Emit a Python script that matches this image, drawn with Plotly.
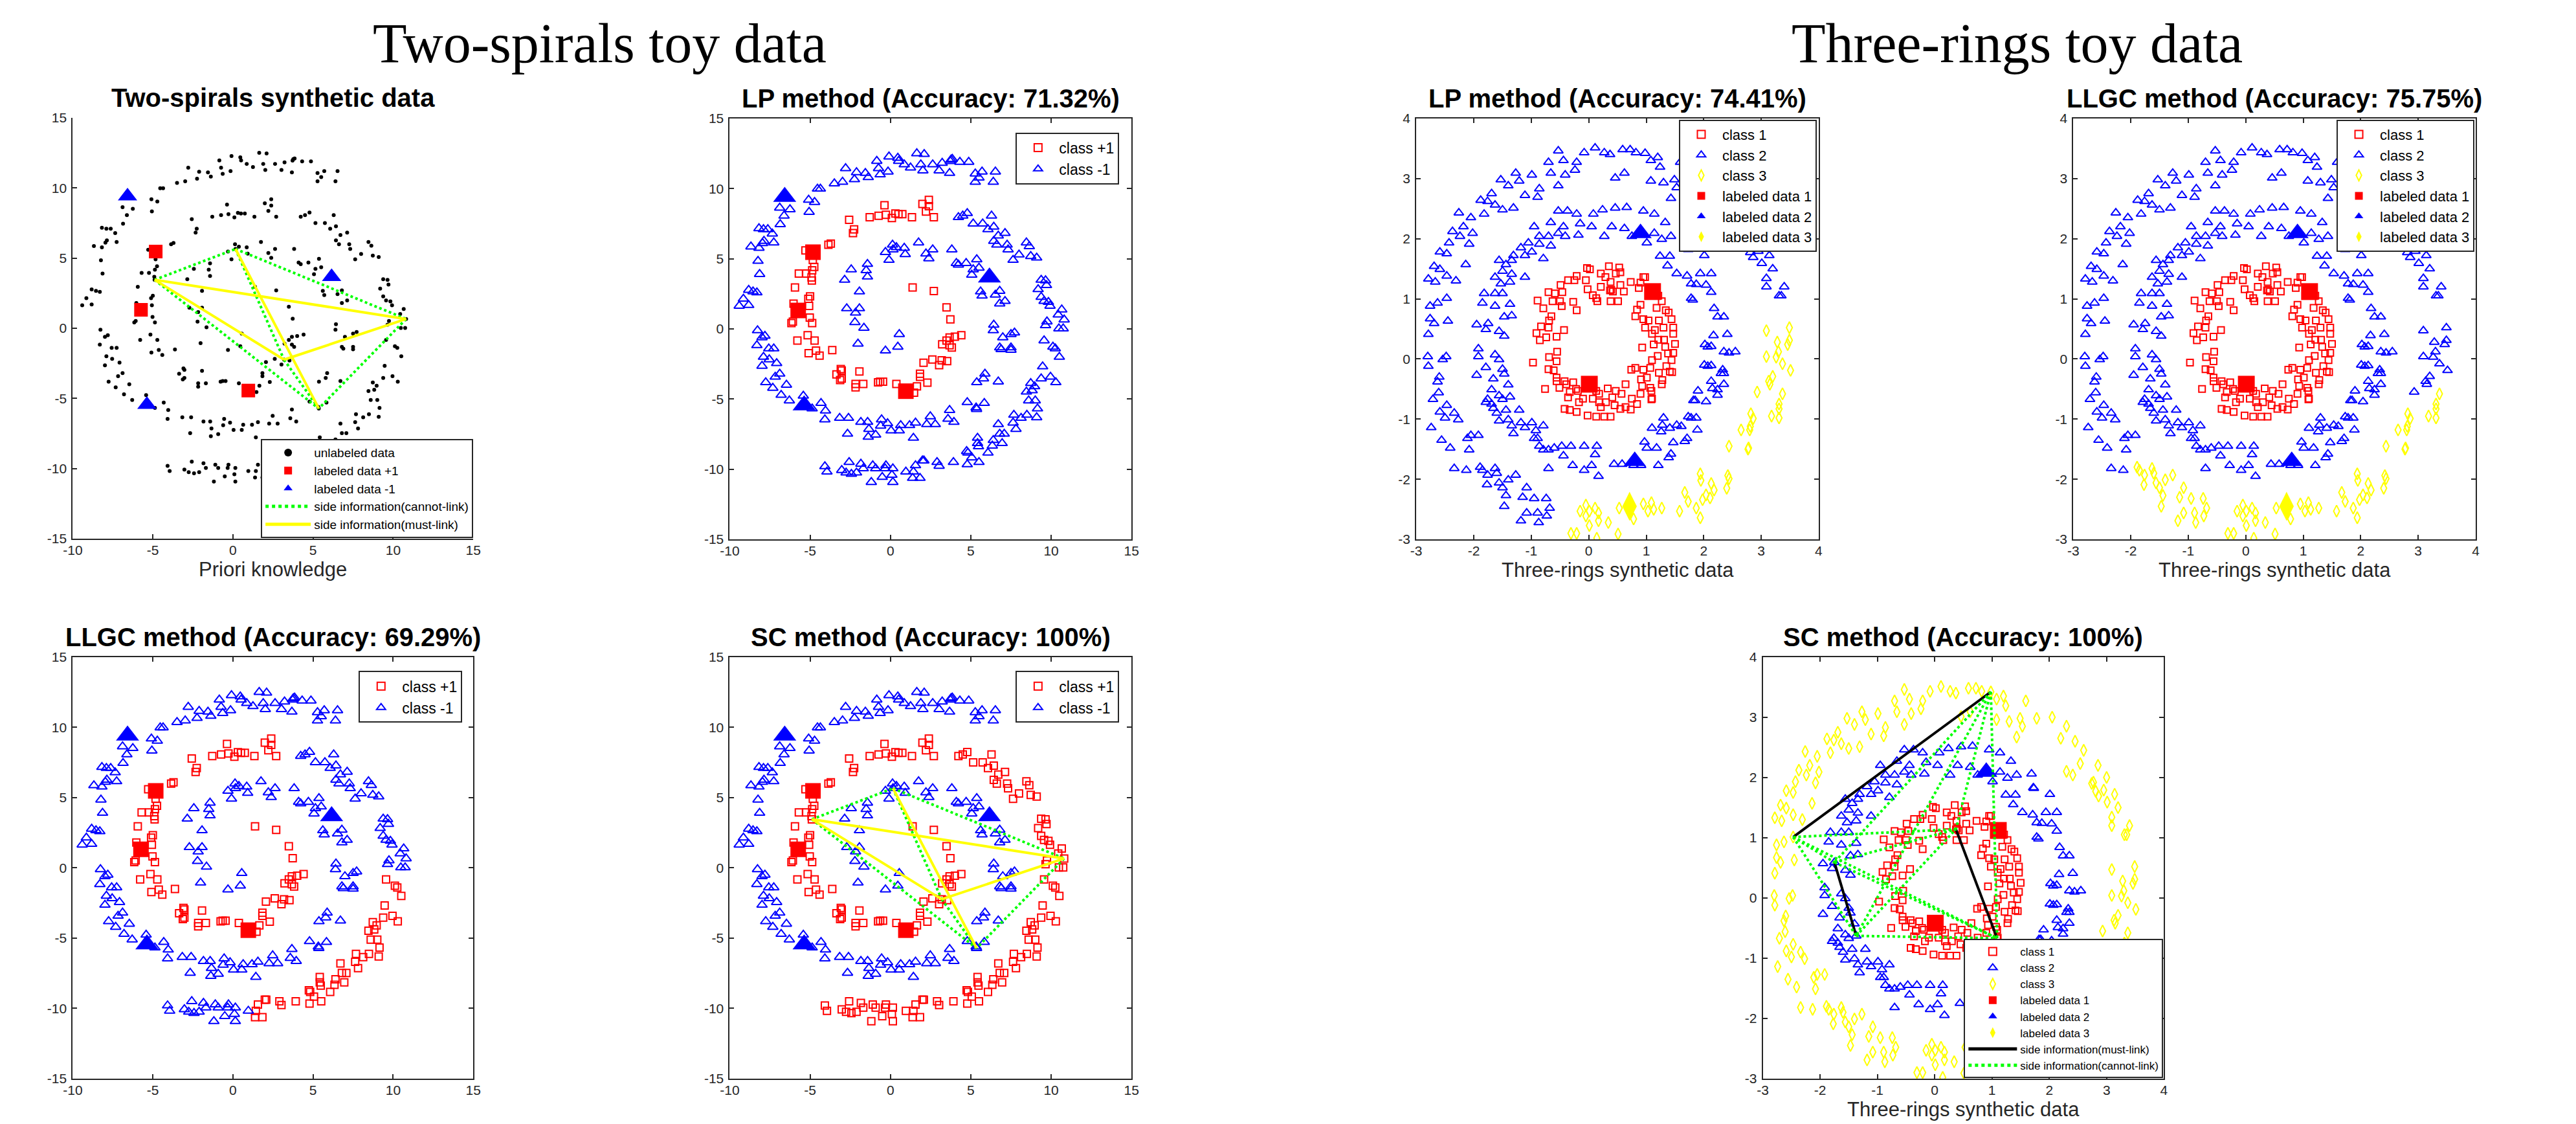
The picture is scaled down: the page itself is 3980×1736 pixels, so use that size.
import plotly.graph_objects as go

FIG_W, FIG_H = 3980, 1736

# ------------------------------------------------------------------
# Tick values / labels
# ------------------------------------------------------------------
SPIRAL_X_TICKS = [-10, -5, 0, 5, 10, 15]
SPIRAL_X_LABELS = ["-10", "-5", "0", "5", "10", "15"]
SPIRAL_Y_TICKS = [-15, -10, -5, 0, 5, 10, 15]
SPIRAL_Y_LABELS = ["-15", "-10", "-5", "0", "5", "10", "15"]
RING_TICKS = [-3, -2, -1, 0, 1, 2, 3, 4]
RING_LABELS = ["-3", "-2", "-1", "0", "1", "2", "3", "4"]

# ------------------------------------------------------------------
# Two-spirals data (x, y), grouped by arm segment (true class)
# ------------------------------------------------------------------
SPIRAL_NEG_OUTER = [
    (-2.79, 11.44), (-2.11, 11.15), (-1.56, 11.1), (-1.38, 10.8), (-0.85, 11.96), (-0.74, 11.44),
    (-0.64, 11.0), (-0.09, 12.27), (-0.15, 11.2), (0.46, 12.18), (0.51, 11.96), (0.86, 11.71),
    (1.25, 11.49), (1.64, 12.5), (1.89, 11.71), (2.1, 12.45), (2.02, 11.28), (2.63, 11.71),
    (3.03, 11.28), (3.22, 11.82), (3.77, 12.05), (3.72, 11.95), (3.85, 12.1), (3.68, 11.1),
    (4.32, 11.89), (4.87, 11.89), (5.28, 11.06), (5.28, 10.47), (5.7, 11.2), (5.51, 10.77),
    (6.4, 10.47), (6.53, 11.2),
    (-3.49, 10.36), (-2.98, 10.47), (-2.24, 10.65), (-4.54, 9.98), (-4.36, 9.98), (-5.09, 9.19),
    (-4.72, 9.03), (-5.06, 8.33), (-6.89, 8.63), (-6.62, 8.06), (-6.25, 8.51), (-6.86, 7.45),
    (-8.18, 7.16), (-7.9, 7.09), (-7.63, 7.09), (-7.35, 6.78), (-7.26, 6.15), (-7.87, 6.26),
    (-7.96, 6.1), (-8.68, 5.86), (-8.18, 5.77), (-8.24, 4.84), (-8.14, 3.9), (-8.82, 2.77),
    (-8.55, 2.66), (-8.31, 2.59), (-9.15, 2.14), (-9.41, 1.64), (-8.82, 1.69),
    (-8.27, -0.11), (-7.99, -0.61), (-7.81, -0.5), (-8.31, -1.17), (-7.57, -1.4), (-7.26, -1.4),
    (-7.9, -2.0), (-7.54, -2.18), (-7.08, -2.45), (-7.99, -2.64), (-6.89, -3.2), (-7.17, -3.42),
    (-7.76, -3.81), (-7.32, -4.21), (-6.47, -3.99), (-6.8, -4.71), (-6.29, -5.11), (-5.42, -4.77),
    (-4.87, -5.68), (-4.32, -5.29), (-4.04, -5.83), (-4.08, -6.46), (-3.16, -6.35), (-2.61, -6.35),
    (-2.67, -7.48), (-1.84, -6.64), (-1.42, -6.64), (-1.34, -7.14), (-1.38, -7.7), (-0.92, -7.55),
    (-0.55, -6.46), (-0.61, -6.91), (-0.18, -6.73), (0.04, -7.25), (0.55, -7.25), (0.64, -6.87),
    (1.19, -6.87), (1.56, -6.69), (1.43, -7.77), (2.26, -6.8), (2.48, -6.24), (2.79, -6.8),
    (3.58, -6.42), (3.68, -5.79), (3.95, -6.64),
]
SPIRAL_NEG_INNER = [
    (0.13, 5.99), (0.37, 5.81), (0.86, 5.77), (0.92, 5.32), (-0.31, 5.47), (-0.09, 4.91),
    (0.16, 5.65), (1.75, 6.15), (2.21, 5.36), (2.63, 5.65), (2.39, 5.02), (3.82, 5.65),
    (4.1, 4.68), (4.23, 4.57), (4.71, 4.68), (5.37, 4.95), (5.15, 4.23), (5.06, 3.85),
    (5.51, 4.35), (5.61, 2.66), (5.7, 2.36), (6.53, 2.43), (6.8, 2.7), (6.8, 1.8), (7.13, 1.98),
    (6.43, 0.29), (6.4, -0.11), (6.99, -0.61), (7.5, -0.38), (7.72, -0.27), (6.8, -1.33),
    (6.89, -1.46), (7.5, -1.33), (7.5, -1.5), (5.88, -3.2), (5.79, -3.54), (5.37, -3.81),
    (6.71, -3.76), (4.78, -5.23), (5.33, -5.61), (5.36, -5.72), (5.84, -5.29),
    (-1.43, 4.62), (-1.51, 4.17), (-1.43, 3.72), (-2.44, 4.23), (-2.85, 3.49), (-1.93, 2.66),
    (-2.72, 1.46), (-1.93, 1.46), (-2.17, 1.15), (-2.21, 0.47), (-1.65, 0.07), (-2.02, -1.06),
    (0.55, -0.38), (0.46, -1.28), (-0.31, -1.55),
]
SPIRAL_POS_INNER = [
    (-4.83, 4.91), (-5.29, 5.59), (-3.86, 5.99), (-3.71, 6.08), (-5.7, 3.94), (-5.24, 3.94),
    (-4.87, 4.17), (-4.74, 4.41), (-4.91, 3.67), (-4.89, 3.45), (-5.94, 2.95), (-6.03, 1.8),
    (-5.0, 2.32), (-5.11, 2.14), (-5.06, 1.64), (-5.02, 0.81), (-4.87, 0.41), (-6.16, 0.41),
    (-6.07, 0.52), (-5.79, -0.83), (-5.15, -0.45), (-4.72, -0.83), (-5.09, -1.73), (-4.63, -1.55),
    (-4.41, -1.91), (-3.62, -1.51),
    (-3.36, -3.24), (-3.09, -2.86), (-3.03, -2.97), (-3.13, -3.65), (-3.03, -3.54), (-1.93, -3.04),
    (-2.17, -3.92), (-2.17, -4.17), (-1.69, -3.92), (-0.77, -3.81), (-0.64, -3.76), (-0.46, -3.76),
    (0.37, -3.92), (1.47, -4.55), (1.65, -4.1), (1.84, -3.2), (1.84, -3.42), (2.3, -3.83),
    (2.06, -2.41), (2.61, -2.18), (3.03, -2.59), (3.19, -2.24), (3.53, -2.3),
    (3.22, -1.1), (3.68, -1.17), (3.82, -1.33), (3.49, -0.83), (3.68, -0.61), (4.01, -0.56),
    (4.41, -0.45), (3.73, 0.68), (3.49, 1.53), (2.7, 2.7), (1.38, 2.95),
    (-2.57, 7.77), (-2.26, 7.09), (-2.33, 6.82), (-1.29, 7.95), (-0.74, 8.06), (-0.37, 8.81),
    (-0.28, 8.13), (0.09, 7.9), (0.31, 8.22), (0.5, 8.18), (0.74, 8.18), (1.34, 7.95),
    (1.99, 8.9), (2.39, 9.19), (2.39, 8.74), (2.21, 8.36), (2.7, 7.95),
]
SPIRAL_POS_TOPRIGHT = [
    (4.23, 7.95), (4.5, 8.06), (4.78, 8.24), (5.15, 7.5), (5.74, 7.5), (6.29, 8.06), (6.43, 7.27),
    (6.07, 7.09), (6.71, 6.64), (7.13, 6.82), (6.43, 6.26), (6.62, 5.99), (7.26, 5.99),
    (7.32, 5.65), (7.63, 4.91), (8.0, 5.29), (8.46, 6.15), (8.64, 5.88), (8.73, 5.18), (9.1, 5.07),
]
SPIRAL_POS_RIGHT_UPPER = [
    (9.38, 3.49), (9.65, 3.45), (9.71, 3.11), (9.19, 2.82), (9.38, 2.27), (9.56, 1.98),
    (9.83, 1.91), (9.93, 1.64), (10.66, 1.37), (10.44, 1.01), (10.81, 0.66), (9.74, 0.52),
    (9.65, 0.25), (10.48, 0.02), (10.75, 0.02),
]
SPIRAL_POS_RIGHT_LOWER = [
    (9.56, -0.83), (10.11, -1.28), (10.26, -1.4), (10.51, -2.0), (9.47, -2.68), (9.38, -3.54),
    (9.96, -3.42), (10.29, -3.81),
]
SPIRAL_POS_BOTTOMRIGHT = [
    (8.73, -3.87), (8.97, -4.1), (8.82, -4.39), (8.46, -4.48), (8.6, -5.11), (9.01, -5.11),
    (9.15, -5.68), (9.1, -6.31), (8.49, -6.13), (7.68, -6.13), (7.63, -6.69), (7.81, -7.14),
    (8.13, -6.35), (6.71, -6.8), (6.8, -7.48), (7.08, -7.48), (6.4, -7.93), (6.95, -8.15),
    (6.34, -8.33), (6.07, -8.83), (5.42, -7.77), (5.42, -8.15), (5.48, -8.38), (4.74, -8.72),
    (4.82, -8.83), (5.06, -9.17), (4.78, -9.66), (5.51, -9.5),
]
SPIRAL_POS_BOTTOM_EAST = [
    (3.92, -9.5), (2.9, -9.5), (3.03, -9.77), (1.99, -9.39), (2.08, -9.39), (1.56, -9.73),
    (1.43, -10.18), (1.84, -10.63), (1.38, -10.63),
]
SPIRAL_POS_BOTTOM_WEST = [
    (0.96, -10.18), (0.15, -9.95), (0.09, -10.41), (0.15, -10.92), (-0.28, -9.73), (-0.33, -9.95),
    (-0.51, -10.56), (-0.92, -9.95), (-1.1, -9.73), (-1.19, -10.92), (-1.84, -9.62), (-1.69, -9.95),
    (-2.11, -10.25), (-2.43, -10.34), (-2.57, -9.5), (-2.76, -10.25), (-3.03, -10.07),
    (-3.95, -10.18), (-4.08, -9.8),
]
SPIRAL_LABELED_POS = [(-4.82, 5.47), (-5.74, 1.31), (0.96, -4.44)]
SPIRAL_LABELED_NEG = [(-6.58, 9.41), (-5.37, -5.45), (6.16, 3.67)]
SPIRAL_LINK_NODES = {"a": (-4.89, 3.45), "b": (0.16, 5.65), "c": (10.81, 0.66),
                     "d": (3.19, -2.24), "e": (5.36, -5.72)}
SPIRAL_MUST_LINK = [("a", "c"), ("a", "d"), ("d", "c"), ("b", "e")]
SPIRAL_CANNOT_LINK = [("a", "b"), ("b", "c"), ("c", "e"), ("a", "e"), ("b", "d"), ("d", "e")]

# segment -> class (+1) membership per method
SPIRAL_SEGMENTS = {
    "NEG_OUTER": SPIRAL_NEG_OUTER, "NEG_INNER": SPIRAL_NEG_INNER,
    "POS_INNER": SPIRAL_POS_INNER, "POS_TOPRIGHT": SPIRAL_POS_TOPRIGHT,
    "POS_RIGHT_UPPER": SPIRAL_POS_RIGHT_UPPER, "POS_RIGHT_LOWER": SPIRAL_POS_RIGHT_LOWER,
    "POS_BOTTOMRIGHT": SPIRAL_POS_BOTTOMRIGHT, "POS_BOTTOM_EAST": SPIRAL_POS_BOTTOM_EAST,
    "POS_BOTTOM_WEST": SPIRAL_POS_BOTTOM_WEST,
}
LP_SPIRAL_POS = ["POS_INNER"]
LLGC_SPIRAL_POS = ["POS_INNER", "POS_RIGHT_LOWER", "POS_BOTTOMRIGHT", "POS_BOTTOM_EAST"]
SC_SPIRAL_POS = ["POS_INNER", "POS_TOPRIGHT", "POS_RIGHT_UPPER", "POS_RIGHT_LOWER",
                 "POS_BOTTOMRIGHT", "POS_BOTTOM_EAST", "POS_BOTTOM_WEST"]

# ------------------------------------------------------------------
# Three-rings data (x, y)
# ------------------------------------------------------------------
RING_INNER = [
    (-0.03, 1.51), (0.02, 1.49), (0.35, 1.54), (0.53, 1.52), (0.55, 1.44), (0.47, 1.42),
    (0.21, 1.42), (0.29, 1.36), (-0.21, 1.38), (-0.36, 1.31), (-0.25, 1.31), (-0.49, 1.23),
    (-0.05, 1.31), (-0.02, 1.16), (0.13, 1.01), (0.21, 1.2), (0.38, 1.28), (0.39, 1.15),
    (0.42, 1.12), (0.55, 1.23), (0.61, 1.12), (0.73, 1.28), (0.9, 1.27), (0.95, 1.36),
    (0.98, 1.36), (0.87, 1.18), (1.21, 1.05), (1.27, 0.96), (0.9, 0.9), (0.84, 0.82),
    (0.51, 0.96), (0.38, 0.96), (0.15, 0.96), (0.07, 1.06), (-0.59, 1.09), (-0.7, 1.11),
    (-0.46, 1.11), (-0.63, 0.96), (-0.5, 0.96), (-0.89, 0.97), (-0.79, 0.84), (-0.65, 0.71),
    (-0.47, 0.88), (-0.27, 0.95), (-0.21, 0.81), (-0.69, 0.64), (-0.83, 0.54), (-0.7, 0.52),
    (-0.91, 0.43), (-0.74, 0.36), (-0.85, 0.31), (-0.56, 0.37), (-0.43, 0.48), (-0.97, -0.06),
    (-0.69, 0.03), (-0.55, 0.12), (-0.56, -0.04), (-0.7, -0.17), (-0.61, -0.19), (-0.56, -0.31),
    (-0.56, -0.37), (-0.76, -0.5), (-0.51, -0.48), (-0.42, -0.37), (-0.39, -0.42), (-0.27, -0.39),
    (-0.33, -0.55), (-0.36, -0.64), (-0.19, -0.53), (-0.1, -0.66), (-0.42, -0.83), (-0.33, -0.85),
    (-0.21, -0.88), (-0.02, -0.94), (0.13, -0.96), (0.27, -0.96), (0.38, -0.96), (0.21, -0.8),
    (0.3, -0.72), (0.41, -0.64), (0.47, -0.53), (0.57, -0.58), (0.64, -0.42), (0.55, -0.83),
    (0.73, -0.84), (0.75, -0.66), (0.9, -0.58), (0.91, -0.34), (1.01, -0.31), (1.09, -0.53),
    (1.1, -0.66), (1.27, -0.42), (1.28, -0.35), (1.22, -0.23), (1.35, -0.12), (1.41, -0.21),
    (1.45, -0.22), (1.44, -0.02), (1.38, 0.09), (1.5, 0.25), (1.47, 0.1), (1.33, 0.2),
    (1.2, 0.05), (1.1, -0.02), (1.07, -0.15), (0.95, -0.18), (0.93, 0.19), (1.13, 0.24),
    (1.21, 0.32), (1.31, 0.32), (1.47, 0.42), (1.47, 0.52), (1.3, 0.52), (1.15, 0.48),
    (1.1, 0.42), (0.98, 0.52), (1.44, 0.66), (1.39, 0.77), (1.22, 0.64), (1.04, 0.64),
    (0.95, 0.66), (0.81, 0.71), (1.18, 0.85), (1.34, 0.81), (0.74, -0.18), (0.81, -0.15),
    (0.93, -0.45), (1.07, -0.48), (0.84, -0.75), (0.64, -0.8), (0.45, -0.77), (0.18, -0.72),
    (0.07, -0.66), (-0.22, -0.5), (0.13, -0.53), (0.33, -0.49), (0.18, -0.58), (-0.17, -0.72),
    (0.37, 1.14), (1.09, -0.67),
]
RING_MIDDLE = [
    (-0.53, 2.46), (-0.37, 2.46), (-0.21, 2.41), (0.08, 2.41), (0.24, 2.48), (0.46, 2.51),
    (0.66, 2.52), (0.95, 2.46), (1.14, 2.41), (1.33, 2.27), (1.43, 2.04), (1.69, 2.06),
    (1.72, 1.83), (1.27, 1.99), (1.14, 2.09), (0.91, 2.09), (1.01, 1.93), (0.75, 2.04),
    (0.62, 2.17), (0.4, 2.2), (0.27, 2.04), (0.05, 2.2), (-0.15, 2.25), (-0.18, 2.06),
    (-0.41, 2.04), (-0.44, 2.2), (-0.66, 2.27), (-0.7, 2.04), (-0.86, 2.04), (-0.95, 2.2),
    (-1.05, 1.93), (-0.86, 1.91), (-0.66, 1.88), (-0.53, 2.09), (-1.18, 1.85), (-1.31, 1.72),
    (-1.11, 1.72), (-0.99, 1.78), (-0.79, 1.67), (-1.56, 1.64), (-1.44, 1.57), (-1.34, 1.64),
    (-1.5, 1.46), (-1.34, 1.41), (-1.63, 1.36), (-1.53, 1.25), (-1.37, 1.28), (-1.11, 1.36),
    (-1.63, 1.09), (-1.82, 1.09), (-1.5, 1.09), (-1.85, 0.93), (-1.37, 0.91), (-1.63, 0.88),
    (-1.75, 0.59), (-1.95, 0.57), (-1.47, 0.7), (-1.34, 0.72), (-1.79, 0.49), (-1.56, 0.46),
    (-1.47, 0.38), (-1.92, 0.17), (-1.92, 0.04), (-1.63, 0.07), (-1.56, -0.01), (-1.79, -0.14),
    (-1.95, -0.27), (-1.5, -0.17), (-1.66, -0.33), (-1.47, -0.25), (-1.69, -0.51), (-1.4, -0.43),
    (-1.56, -0.61), (-1.76, -0.67), (-1.69, -0.75), (-1.79, -0.72), (-1.5, -0.67), (-1.37, -0.63),
    (-1.66, -0.82), (-1.6, -0.9), (-1.44, -0.85), (-1.56, -1.03), (-1.4, -1.01), (-1.34, -1.11),
    (-1.31, -1.24), (-1.18, -1.06), (-1.21, -0.85), (-1.11, -1.14), (-0.99, -1.06), (-0.92, -1.19),
    (-0.79, -1.11), (-0.95, -1.32), (-0.89, -1.32), (-0.86, -1.45), (-0.79, -1.51), (-0.7, -1.51),
    (-0.6, -1.48), (-0.7, -1.82), (-0.47, -1.45), (-0.44, -1.61), (-0.31, -1.45), (-0.28, -1.77),
    (-0.08, -1.45), (-0.08, -1.85), (0.05, -1.77), (0.14, -1.45), (0.17, -1.95), (0.11, -1.59),
    (1.24, 1.71), (1.41, 1.71), (1.37, 1.55), (1.53, 1.42), (1.73, 1.82), (2.01, 1.72),
    (1.71, 1.38), (1.78, 1.25), (1.87, 1.24), (1.94, 1.42), (2.04, 1.23), (2.13, 1.42),
    (1.81, 0.98), (2.13, 1.11), (2.18, 0.84), (2.35, 0.7), (2.24, 0.7), (2.17, 0.39),
    (2.41, 0.41), (2.02, 0.24), (2.13, 0.21), (2.07, 0.2), (2.35, 0.12), (2.55, 0.12),
    (2.44, 0.1), (2.01, -0.1), (2.13, -0.11), (2.07, -0.12), (2.33, -0.18), (2.3, -0.24),
    (2.35, -0.24), (2.13, -0.37), (2.15, -0.49), (2.24, -0.51), (2.35, -0.42), (1.9, -0.53),
    (2.24, -0.6), (1.85, -0.69), (2.04, -0.71), (1.73, -0.96), (1.87, -0.98), (1.89, -1.18),
    (1.61, -1.12), (1.53, -1.1), (1.41, -1.15), (1.28, -1.1), (1.3, -0.98), (1.1, -1.15),
    (1.26, -1.21), (1.47, -1.39), (1.71, -1.32), (1.67, -1.37), (1.43, -1.58), (1.39, -1.64),
    (1.18, -1.48), (1.01, -1.48), (0.97, -1.38), (1.21, -1.77), (0.78, -1.77), (0.91, -1.77),
    (0.58, -1.75), (0.44, -1.75), (1.78, -0.98), (1.82, -0.69), (1.78, 1.01),
]
RING_OUTER_A = [  # top, left and upper-right arc
    (-0.53, 3.46), (-0.44, 3.3), (-0.21, 3.27), (-0.08, 3.43), (0.11, 3.51), (0.27, 3.43),
    (0.37, 3.4), (0.59, 3.48), (0.72, 3.48), (0.82, 3.43), (0.98, 3.42), (1.08, 3.3), (1.2, 3.35),
    (1.24, 3.19), (1.08, 2.96), (1.3, 2.93), (1.49, 2.98), (1.59, 3.27), (1.43, 2.67),
    (1.53, 2.85), (1.78, 2.98), (0.62, 3.09), (0.46, 3.01), (-0.24, 3.14), (-0.41, 3.06),
    (-0.66, 3.09), (-0.7, 3.27), (-0.53, 2.88), (-0.86, 2.83), (-0.89, 2.69), (-1.11, 2.72),
    (-0.99, 3.06), (-1.27, 3.09), (-1.21, 2.96), (-1.4, 2.88), (-1.31, 2.51), (-1.5, 2.48),
    (-1.53, 2.98), (-1.69, 2.75), (-1.76, 2.62), (-1.63, 2.56), (-1.82, 2.41), (-1.88, 2.64),
    (-2.05, 2.35), (-2.26, 2.43), (-2.18, 2.2), (-2.37, 2.12), (-2.24, 2.04), (-2.02, 2.09),
    (-2.08, 1.91), (-2.43, 1.93), (-2.59, 1.78), (-2.47, 1.75), (-2.69, 1.54), (-2.59, 1.49),
    (-2.79, 1.33), (-2.67, 1.28), (-2.47, 1.38), (-2.31, 1.3), (-2.14, 1.57), (-2.47, 1.01),
    (-2.76, 0.88), (-2.63, 0.93), (-2.76, 0.67), (-2.69, 0.59), (-2.45, 0.63), (-2.79, 0.41),
    (-2.8, 0.04), (-2.79, -0.12), (-2.54, -0.01), (-2.48, 0.04), (-2.6, -0.3), (-2.63, -0.38),
    (-2.71, -0.67), (-2.61, -0.56), (-2.47, -0.77), (-2.59, -0.88), (-2.5, -0.98), (-2.74, -1.14),
    (-2.34, -0.9), (-2.27, -1.01), (-2.56, -1.35), (-2.41, -1.48), (-2.11, -1.32), (-2.05, -1.27),
    (-2.08, -1.51), (-1.92, -1.27), (-2.34, -1.82), (-2.13, -1.85),
    (3.31, 1.05), (3.35, 1.05), (3.09, 1.2), (3.09, 1.34), (3.01, 1.59), (3.14, 1.72),
    (2.86, 1.69), (2.95, 1.79), (2.81, 1.77), (2.74, 1.9), (2.77, 1.92), (2.54, 2.23),
    (2.41, 2.04), (2.3, 2.1), (2.05, 3.0), (2.3, 2.85), (2.2, 2.65), (2.6, 2.45), (2.45, 2.6),
    (2.85, 2.2), (3.0, 2.0), (3.2, 1.5), (3.4, 1.2),
]
RING_OUTER_B = [  # lower-left arc
    (-1.89, -1.8), (-1.85, -1.85), (-1.76, -1.93), (-1.63, -1.82), (-1.6, -1.9), (-1.77, -2.09),
    (-1.56, -2.06), (-1.4, -2.01), (-1.5, -2.14), (-1.44, -2.27), (-1.47, -2.45), (-1.27, -1.93),
    (-1.08, -2.14), (-1.15, -2.3), (-0.95, -2.32), (-1.18, -2.69), (-1.08, -2.56), (-0.89, -2.56),
    (-0.87, -2.72), (-0.74, -2.32), (-0.68, -2.48), (-0.73, -2.61),
]
RING_OUTER_C = [  # bottom to lower-right arc
    (-0.31, -2.9), (-0.21, -2.9), (-0.15, -2.53), (-0.05, -2.61), (0.01, -2.53), (0.01, -2.77),
    (0.11, -2.48), (0.14, -2.98), (0.17, -2.56), (-0.05, -2.43), (0.17, -2.69), (0.34, -2.72),
    (0.51, -2.91), (0.53, -2.48), (0.78, -2.66), (0.95, -2.41), (1.09, -2.39), (1.03, -2.53),
    (1.13, -2.5), (1.27, -2.48), (1.58, -2.53), (1.67, -2.22), (1.73, -2.37), (1.87, -2.48),
    (1.94, -2.64), (1.98, -2.34), (1.94, -1.91), (1.95, -2.02), (2.04, -2.26), (2.11, -2.31),
    (2.13, -2.07), (2.18, -2.18), (2.42, -1.94), (2.44, -1.99), (2.4, -2.15), (2.44, -1.45),
    (2.77, -1.5), (2.78, -1.48), (2.65, -1.18), (2.8, -1.18), (2.81, -1.12), (2.82, -0.91),
    (2.86, -0.99), (3.18, -0.95), (3.31, -0.98), (3.31, -0.83), (3.31, -0.75), (3.37, -0.58),
]
RING_OUTER_D = [  # right arc
    (3.49, 0.52), (3.09, 0.47), (3.28, 0.28), (3.46, 0.24), (3.49, 0.31), (3.3, 0.12),
    (3.09, 0.04), (3.26, 0.03), (3.37, -0.08), (3.51, -0.19), (3.2, -0.29), (3.15, -0.42),
    (3.13, -0.37), (2.93, -0.55),
]
RING_LABELED_1 = [(0.01, -0.42), (1.11, 1.12)]
RING_LABELED_2 = [(0.90, 2.09), (0.80, -1.70)]
RING_LABELED_3 = [(0.71, -2.45)]
RING_LINK_NODES = {"A1": (0.98, 3.42), "A2": (-2.47, 1.01), "B1": (-1.75, 0.59),
                   "B2": (-1.37, -0.63), "C1": (0.37, 1.14), "C2": (1.09, -0.67)}
RING_MUST_LINK = [("A1", "A2"), ("B1", "B2"), ("C1", "C2")]
RING_CANNOT_LINK = [("A1", "B1"), ("A1", "B2"), ("A2", "B1"), ("A2", "B2"),
                    ("A1", "C1"), ("A1", "C2"), ("A2", "C1"), ("A2", "C2"),
                    ("B1", "C1"), ("B1", "C2"), ("B2", "C1"), ("B2", "C2")]

RING_SEGMENTS = {"INNER": RING_INNER, "MIDDLE": RING_MIDDLE, "OUTER_A": RING_OUTER_A,
                 "OUTER_B": RING_OUTER_B, "OUTER_C": RING_OUTER_C, "OUTER_D": RING_OUTER_D}
LP_RING = {1: ["INNER"], 2: ["MIDDLE", "OUTER_A", "OUTER_B"], 3: ["OUTER_C", "OUTER_D"]}
LLGC_RING = {1: ["INNER"], 2: ["MIDDLE", "OUTER_A", "OUTER_D"], 3: ["OUTER_B", "OUTER_C"]}
SC_RING = {1: ["INNER"], 2: ["MIDDLE"], 3: ["OUTER_A", "OUTER_B", "OUTER_C", "OUTER_D"]}

# ------------------------------------------------------------------
# Styling / layout helpers
# ------------------------------------------------------------------
RED, BLUE, YELLOW, GREEN, BLACK = "#ff0000", "#0000ff", "#ffff00", "#00ff00", "#000000"
AX_COLOR = "#262626"
SANS = "Liberation Sans, Arial, Helvetica, sans-serif"
SERIF = "Liberation Serif, Times New Roman, serif"

# panel pixel boxes: left, right, top, bottom
PANELS = {
    1: (90, 713, 164, 823),
    2: (1112, 1737, 165, 824),
    3: (2180, 2806, 165, 824),
    4: (3202, 3828, 165, 824),
    5: (90, 713, 1008, 1668),
    6: (1112, 1737, 1008, 1668),
    7: (2719, 3343, 1008, 1668),
}

fig = go.Figure()


def sfx(i):
    return "" if i == 1 else str(i)


def gather(seg_dict, names):
    pts = []
    for n in names:
        pts.extend(seg_dict[n])
    return pts


def add_pts(i, pts, symbol, color, size, name, show=True, lw=2.0):
    s = sfx(i)
    fig.add_trace(go.Scatter(
        x=[p[0] for p in pts], y=[p[1] for p in pts], mode="markers", name=name,
        marker=dict(symbol=symbol, size=size, color=color, line=dict(color=color, width=lw)),
        showlegend=show, xaxis="x" + s, yaxis="y" + s, legend="legend" + s, hoverinfo="skip"))


def add_links(i, nodes, pairs, color, dash, name, show=True):
    s = sfx(i)
    xs, ys = [], []
    for a, b in pairs:
        xs += [nodes[a][0], nodes[b][0], None]
        ys += [nodes[a][1], nodes[b][1], None]
    fig.add_trace(go.Scatter(
        x=xs, y=ys, mode="lines", name=name, line=dict(color=color, width=4, dash=dash),
        showlegend=show, xaxis="x" + s, yaxis="y" + s, legend="legend" + s, hoverinfo="skip"))


# ---------------- Panel 1: Two-spirals synthetic data ----------------
all_spiral = gather(SPIRAL_SEGMENTS, list(SPIRAL_SEGMENTS.keys()))
add_pts(1, all_spiral, "circle", BLACK, 6, "unlabeled data", lw=0)
add_pts(1, SPIRAL_LABELED_POS, "square", RED, 21, "labeled data +1", lw=0)
add_pts(1, SPIRAL_LABELED_NEG, "triangle-up", BLUE, 26, "labeled data -1", lw=0)
add_links(1, SPIRAL_LINK_NODES, SPIRAL_CANNOT_LINK, GREEN, "dot", "side information(cannot-link)")
add_links(1, SPIRAL_LINK_NODES, SPIRAL_MUST_LINK, YELLOW, "solid", "side information(must-link)")


# ---------------- Spiral method panels ----------------
def spiral_panel(i, pos_names, with_links):
    neg_names = [n for n in SPIRAL_SEGMENTS if n not in pos_names]
    add_pts(i, gather(SPIRAL_SEGMENTS, pos_names), "square-open", RED, 11, "class +1")
    add_pts(i, gather(SPIRAL_SEGMENTS, neg_names), "triangle-up-open", BLUE, 14, "class -1")
    add_pts(i, SPIRAL_LABELED_POS, "square", RED, 24, "labeled +1", show=False, lw=0)
    add_pts(i, SPIRAL_LABELED_NEG, "triangle-up", BLUE, 31, "labeled -1", show=False, lw=0)
    if with_links:
        add_links(i, SPIRAL_LINK_NODES, SPIRAL_CANNOT_LINK, GREEN, "dot", "cannot-link", show=False)
        add_links(i, SPIRAL_LINK_NODES, SPIRAL_MUST_LINK, YELLOW, "solid", "must-link", show=False)


spiral_panel(2, LP_SPIRAL_POS, False)
spiral_panel(5, LLGC_SPIRAL_POS, False)
spiral_panel(6, SC_SPIRAL_POS, True)


# ---------------- Ring method panels ----------------
def ring_panel(i, assign, with_links):
    add_pts(i, gather(RING_SEGMENTS, assign[1]), "square-open", RED, 10, "class 1")
    add_pts(i, gather(RING_SEGMENTS, assign[2]), "triangle-up-open", BLUE, 13, "class 2")
    add_pts(i, gather(RING_SEGMENTS, assign[3]), "diamond-tall-open", YELLOW, 13, "class 3")
    add_pts(i, RING_LABELED_1, "square", RED, 26, "labeled data 1", lw=0)
    add_pts(i, RING_LABELED_2, "triangle-up", BLUE, 30, "labeled data 2", lw=0)
    add_pts(i, RING_LABELED_3, "diamond-tall", YELLOW, 32, "labeled data 3", lw=0)
    if with_links:
        add_links(i, RING_LINK_NODES, RING_MUST_LINK, BLACK, "solid", "side information(must-link)")
        add_links(i, RING_LINK_NODES, RING_CANNOT_LINK, GREEN, "dot", "side information(cannot-link)")


ring_panel(3, LP_RING, False)
ring_panel(4, LLGC_RING, False)
ring_panel(7, SC_RING, True)

# ---------------- Axes ----------------
layout = dict(width=FIG_W, height=FIG_H, margin=dict(l=0, r=0, t=0, b=0),
              paper_bgcolor="white", plot_bgcolor="white", showlegend=True)

for i, (x0, x1, y0, y1) in PANELS.items():
    s = sfx(i)
    spiral = i in (1, 2, 5, 6)
    base = dict(showline=True, linecolor=AX_COLOR, linewidth=2, ticks="inside", ticklen=7,
                tickwidth=1.5, tickcolor=AX_COLOR, showgrid=False, zeroline=False,
                mirror=False if i == 1 else "allticks",
                tickfont=dict(family=SANS, size=21, color=AX_COLOR), fixedrange=True)
    layout["xaxis" + s] = dict(base, domain=[x0 / FIG_W, x1 / FIG_W], anchor="y" + s,
                               range=[-10, 15] if spiral else [-3, 4],
                               tickvals=SPIRAL_X_TICKS if spiral else RING_TICKS,
                               ticktext=SPIRAL_X_LABELS if spiral else RING_LABELS,
                               ticklabelstandoff=-2)
    layout["yaxis" + s] = dict(base, domain=[1 - y1 / FIG_H, 1 - y0 / FIG_H], anchor="x" + s,
                               range=[-15, 15] if spiral else [-3, 4],
                               tickvals=SPIRAL_Y_TICKS if spiral else RING_TICKS,
                               ticktext=SPIRAL_Y_LABELS if spiral else RING_LABELS,
                               ticklabelstandoff=3)


# ---------------- Legends ----------------
def legend_cfg(xp, yp, xanchor, yanchor, size, itemwidth=30):
    return dict(x=xp / FIG_W, y=1 - yp / FIG_H, xanchor=xanchor, yanchor=yanchor,
                xref="paper", yref="paper", bgcolor="white", bordercolor=AX_COLOR,
                borderwidth=2, font=dict(family=SANS, size=size, color=BLACK),
                itemsizing="constant", itemwidth=itemwidth, tracegroupgap=0,
                traceorder="normal")


layout["legend"] = legend_cfg(713, 822, "right", "bottom", 19, 70)
layout["legend2"] = legend_cfg(1718, 187, "right", "top", 23, 55)
layout["legend5"] = legend_cfg(696, 1030, "right", "top", 23, 55)
layout["legend6"] = legend_cfg(1718, 1030, "right", "top", 23, 55)
layout["legend3"] = legend_cfg(2803, 167, "right", "top", 22, 55)
layout["legend4"] = legend_cfg(3826, 167, "right", "top", 22, 55)
layout["legend7"] = legend_cfg(3342, 1667, "right", "bottom", 17, 75)

# ---------------- Titles ----------------
TITLES = {
    1: "Two-spirals synthetic data",
    2: "LP method (Accuracy: 71.32%)",
    3: "LP method (Accuracy: 74.41%)",
    4: "LLGC method (Accuracy: 75.75%)",
    5: "LLGC method (Accuracy: 69.29%)",
    6: "SC method (Accuracy: 100%)",
    7: "SC method (Accuracy: 100%)",
}
XLABELS = {1: "Priori knowledge", 3: "Three-rings synthetic data",
           4: "Three-rings synthetic data", 7: "Three-rings synthetic data"}

annotations = []
for i, txt in TITLES.items():
    x0, x1, y0, y1 = PANELS[i]
    annotations.append(dict(text=txt, x=(x0 + x1) / 2 / FIG_W, y=1 - (y0 - 7) / FIG_H,
                            xref="paper", yref="paper", xanchor="center", yanchor="bottom",
                            showarrow=False,
                            font=dict(family=SANS, size=40, color=BLACK, weight="bold")))
for i, txt in XLABELS.items():
    x0, x1, y0, y1 = PANELS[i]
    annotations.append(dict(text=txt, x=(x0 + x1) / 2 / FIG_W, y=1 - (y1 + 48) / FIG_H,
                            xref="paper", yref="paper", xanchor="center", yanchor="middle",
                            showarrow=False, font=dict(family=SANS, size=31, color=AX_COLOR)))
for txt, xc in (("Two-spirals toy data", 910), ("Three-rings toy data", 3115)):
    annotations.append(dict(text=txt, x=xc / FIG_W, y=1 - 48 / FIG_H, xref="paper",
                            yref="paper", xanchor="center", yanchor="middle", showarrow=False,
                            font=dict(family=SERIF, size=86, color=BLACK)))
layout["annotations"] = annotations

fig.update_layout(**layout)
fig.write_html("out.html")
